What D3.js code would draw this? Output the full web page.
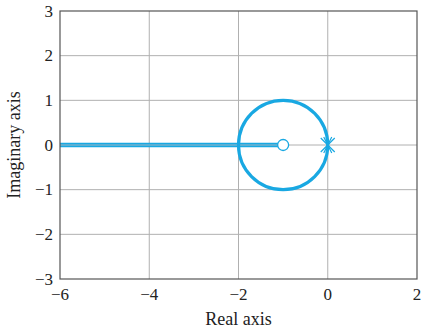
<!DOCTYPE html>
<html>
<head>
<meta charset="utf-8">
<script src="https://cdn.jsdelivr.net/npm/d3@7"></script>
<style>
  body { margin: 0; background: #fff; }
  svg text { font-family: "Liberation Serif", "Times New Roman", serif; fill: #222; }
</style>
</head>
<body>
<div id="chart"></div>
<script>
const width = 424, height = 328;
const margin = { top: 11, right: 7, bottom: 49, left: 60 };

const xTicks = [-6, -4, -2, 0, 2];
const yTicks = [-3, -2, -1, 0, 1, 2, 3];
const xGrid = [-4, -2, 0];
const yGrid = [-2, -1, 0, 1, 2];

// root locus pieces
const realBranch = [[-6, 0], [-1, 0]];
const circleCenter = [-1, 0];
const circleRadius = 1;
const zeros = [[-1, 0]];
const poles = [[0, 0], [0, 0]];

const svg = d3.select("#chart").append("svg")
  .attr("width", width)
  .attr("height", height);

const x = d3.scaleLinear().domain([-6, 2]).range([margin.left, width - margin.right]);
const y = d3.scaleLinear().domain([-3, 3]).range([height - margin.bottom, margin.top]);

const fmt = d => d < 0 ? "\u2212" + Math.abs(d) : String(d);

// grid
svg.append("g").selectAll("line").data(xGrid).join("line")
  .attr("x1", d => x(d)).attr("x2", d => x(d))
  .attr("y1", y(3)).attr("y2", y(-3))
  .attr("stroke", "#b0b0b0").attr("stroke-width", 1);
svg.append("g").selectAll("line").data(yGrid).join("line")
  .attr("x1", x(-6)).attr("x2", x(2))
  .attr("y1", d => y(d)).attr("y2", d => y(d))
  .attr("stroke", "#b0b0b0").attr("stroke-width", 1);

const blue = "#19a8e2";

// real-axis branch
const line = d3.line().x(d => x(d[0])).y(d => y(d[1]));
svg.append("path").datum(realBranch)
  .attr("d", line).attr("fill", "none")
  .attr("stroke", blue).attr("stroke-width", 4.5);
svg.append("path").datum(realBranch)
  .attr("d", line).attr("fill", "none")
  .attr("stroke", "#9fb7c4").attr("stroke-width", 1);

// circular branch
svg.append("ellipse")
  .attr("cx", x(circleCenter[0])).attr("cy", y(circleCenter[1]))
  .attr("rx", x(circleCenter[0] + circleRadius) - x(circleCenter[0]))
  .attr("ry", y(circleCenter[1]) - y(circleCenter[1] + circleRadius))
  .attr("fill", "none").attr("stroke", blue).attr("stroke-width", 3.2);

// zero
svg.append("g").selectAll("circle").data(zeros).join("circle")
  .attr("cx", d => x(d[0])).attr("cy", d => y(d[1]))
  .attr("r", 5.5)
  .attr("fill", "#fff").attr("stroke", blue).attr("stroke-width", 1.3);

// poles (double): one wide cross, one narrow
const pg = svg.append("g").selectAll("path").data(poles).join("path")
  .attr("transform", d => `translate(${x(d[0])},${y(d[1])})`)
  .attr("d", (d, i) => i ? "M-4,-8L4,8M-4,8L4,-8" : "M-7,-7L7,7M-7,7L7,-7")
  .attr("stroke", blue).attr("stroke-width", 1.2).attr("fill", "none");

// frame
svg.append("rect")
  .attr("x", x(-6)).attr("y", y(3))
  .attr("width", x(2) - x(-6)).attr("height", y(-3) - y(3))
  .attr("fill", "none").attr("stroke", "#555").attr("stroke-width", 1.2);

// tick labels
svg.append("g").selectAll("text").data(xTicks).join("text")
  .attr("x", d => x(d)).attr("y", y(-3) + 21)
  .attr("text-anchor", "middle").attr("font-size", 17)
  .text(fmt);
svg.append("g").selectAll("text").data(yTicks).join("text")
  .attr("x", x(-6) - 7).attr("y", d => y(d) + 5.5)
  .attr("text-anchor", "end").attr("font-size", 17)
  .text(fmt);

// axis titles
svg.append("text")
  .attr("x", (x(-6) + x(2)) / 2).attr("y", 325)
  .attr("text-anchor", "middle").attr("font-size", 18)
  .text("Real axis");
svg.append("text")
  .attr("transform", `translate(20,${y(0)}) rotate(-90)`)
  .attr("text-anchor", "middle").attr("font-size", 18)
  .text("Imaginary axis");
</script>
</body>
</html>
